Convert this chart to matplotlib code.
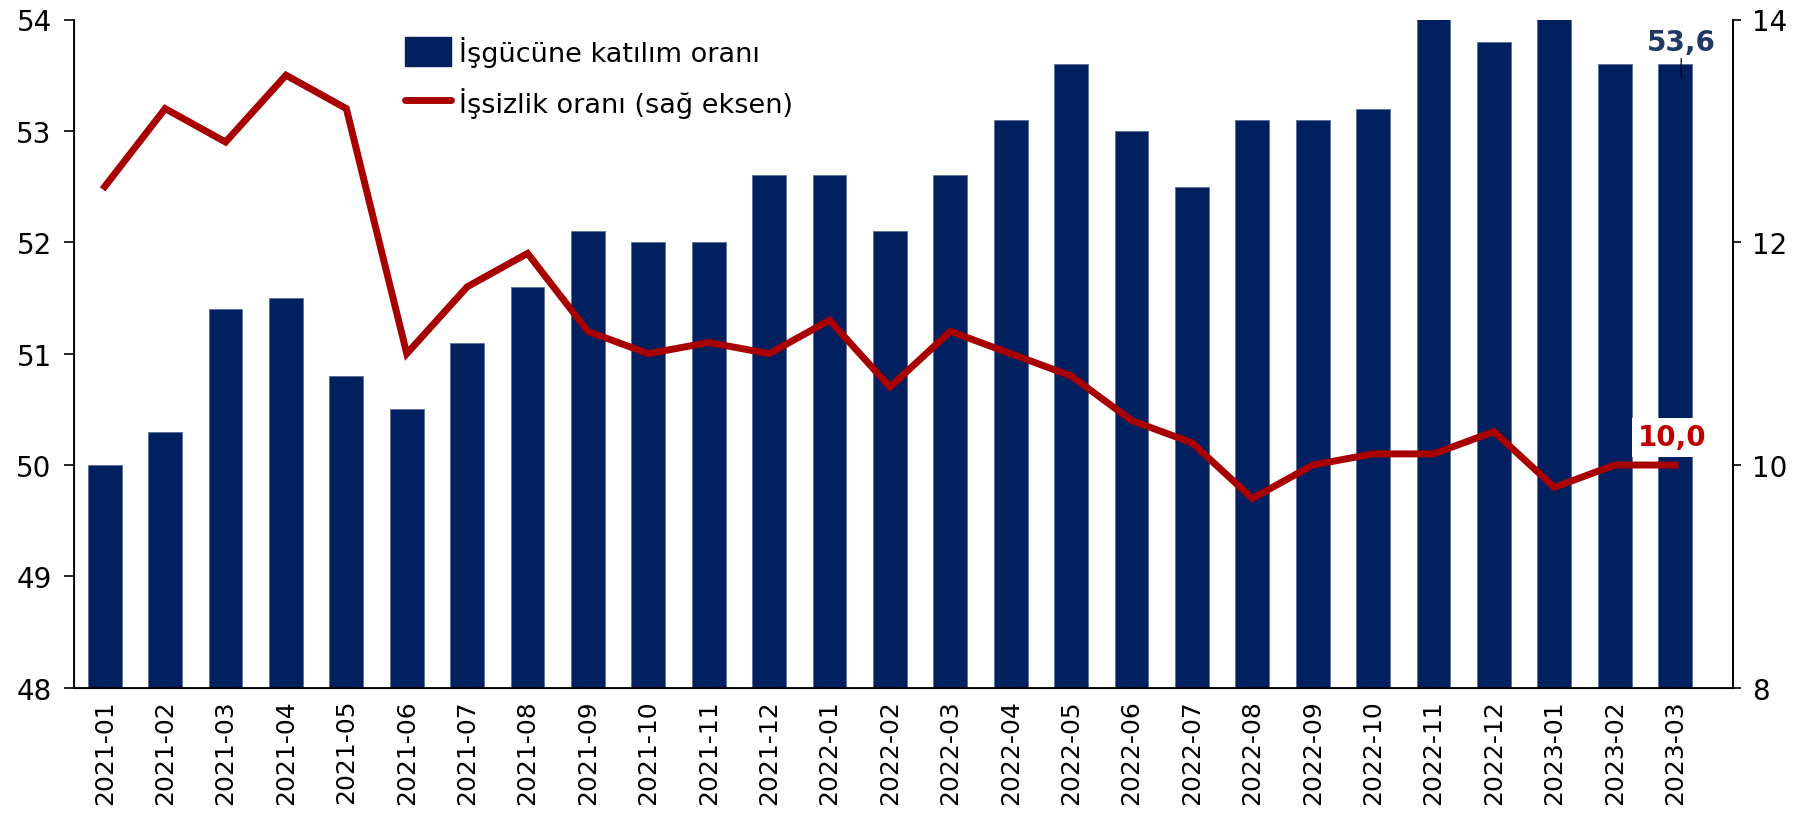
import matplotlib
matplotlib.use("Agg")
import matplotlib.pyplot as plt
from matplotlib.patches import Patch
from matplotlib.lines import Line2D

months = ["2021-01", "2021-02", "2021-03", "2021-04", "2021-05", "2021-06",
          "2021-07", "2021-08", "2021-09", "2021-10", "2021-11", "2021-12",
          "2022-01", "2022-02", "2022-03", "2022-04", "2022-05", "2022-06",
          "2022-07", "2022-08", "2022-09", "2022-10", "2022-11", "2022-12",
          "2023-01", "2023-02", "2023-03"]
participation = [50.0, 50.3, 51.4, 51.5, 50.8, 50.5, 51.1, 51.6, 52.1, 52.0,
                 52.0, 52.6, 52.6, 52.1, 52.6, 53.1, 53.6, 53.0, 52.5, 53.1,
                 53.1, 53.2, 54.1, 53.8, 54.1, 53.6, 53.6]
unemployment = [12.5, 13.2, 12.9, 13.5, 13.2, 11.0, 11.6, 11.9, 11.2, 11.0,
                11.1, 11.0, 11.3, 10.7, 11.2, 11.0, 10.8, 10.4, 10.2, 9.7,
                10.0, 10.1, 10.1, 10.3, 9.8, 10.0, 10.0]
left_ticks = [48, 49, 50, 51, 52, 53, 54]
right_ticks = [8, 10, 12, 14]
bar_label = "İşgücüne katılım oranı"
line_label = "İşsizlik oranı (sağ eksen)"

NAVY = "#002060"
RED = "#A80000"

plt.rcParams['font.family'] = ['DejaVu Sans']

fig = plt.figure(figsize=(17.95, 8.2), dpi=100)
ax = fig.add_axes([0.0412, 0.160, 0.924, 0.815])
x = list(range(len(months)))
ax.bar(x, participation, width=0.56, color=NAVY, edgecolor="#5a6f9a",
       linewidth=0.6, zorder=2)
ax.set_ylim(48, 54)
ax.set_xlim(-0.51, len(months) - 0.05)
ax.set_yticks(left_ticks)
ax.set_yticklabels([str(t) for t in left_ticks], fontsize=20)
ax.set_xticks(x)
ax.set_xticklabels(months, rotation=90, fontsize=18)
ax.tick_params(axis='x', length=0, pad=8)
ax.tick_params(axis='y', length=7, width=1.2, direction='out', pad=9)
ax.spines['top'].set_visible(False)
for s in ['left', 'bottom', 'right']:
    ax.spines[s].set_linewidth(1.3)

ax2 = ax.twinx()
ax2.plot(x, unemployment, color=RED, linewidth=5.0, solid_joinstyle='miter',
         zorder=3)
ax2.set_ylim(8, 14)
ax2.set_yticks(right_ticks)
ax2.set_yticklabels([str(t) for t in right_ticks], fontsize=20)
ax2.tick_params(axis='y', length=6, width=1.2, direction='out', pad=8)
ax2.spines['top'].set_visible(False)
ax2.spines['right'].set_linewidth(1.3)

# value labels
last = len(months) - 1
ax.annotate(f"{participation[-1]:.1f}".replace('.', ','),
            xy=(last + 0.1, 53.48), xytext=(last + 0.1, 53.8),
            ha='center', va='center', fontsize=20, fontweight='bold',
            color="#1F3864",
            arrowprops=dict(arrowstyle='-', color='black', lw=0.9,
                            shrinkA=0, shrinkB=0), zorder=5)
ax2.text(last - 0.05, 10.25,
         f"{unemployment[-1]:.1f}".replace('.', ','),
         ha='center', va='center', fontsize=20, fontweight='bold', color="#C00000",
         bbox=dict(boxstyle='square,pad=0.2', facecolor='white', edgecolor='none'),
         zorder=5)

handles = [Patch(facecolor=NAVY, edgecolor=NAVY),
           Line2D([0], [0], color=RED, linewidth=5.0, solid_capstyle='round')]
fig.legend(handles, [bar_label, line_label], loc='upper left',
           bbox_to_anchor=(0.212, 0.985), frameon=False, fontsize=19.5,
           handlelength=1.7, handleheight=1.25, labelspacing=0.75,
           handletextpad=0.3)

fig.savefig("out.png", dpi=100)
